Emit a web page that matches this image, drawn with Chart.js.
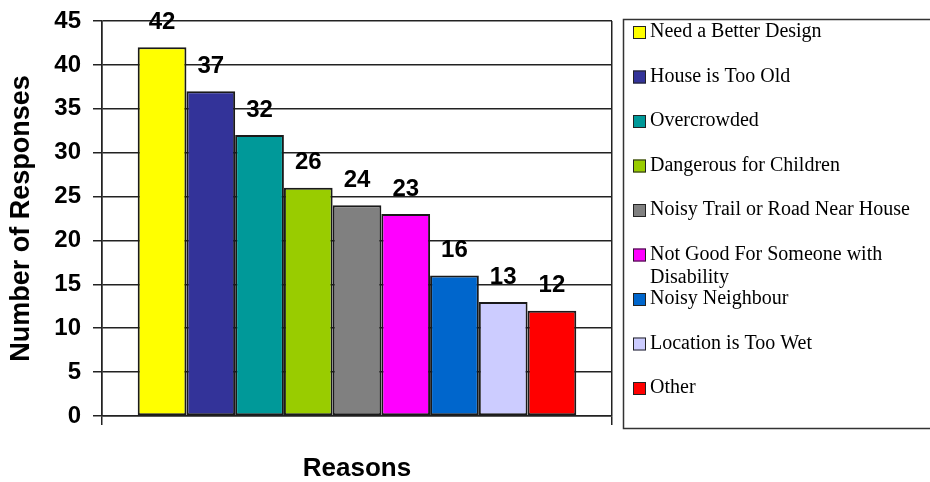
<!DOCTYPE html>
<html>
<head>
<meta charset="utf-8">
<script src="https://cdn.jsdelivr.net/npm/chart.js@4/dist/chart.umd.min.js"></script>
<style>
	html, body { margin: 0; padding: 0; background: #fff; }
	#wrap { width: 930px; height: 482px; position: relative; }
</style>
</head>
<body>
<div id="wrap"><canvas id="reasons-chart"></canvas></div>
<script>
	'use strict';

	// values
	const reasons = [
		'Need a Better Design',
		'House is Too Old',
		'Overcrowded',
		'Dangerous for Children',
		'Noisy Trail or Road Near House',
		['Not Good For Someone with', 'Disability'],
		'Noisy Neighbour',
		'Location is Too Wet',
		'Other'
	];
	const responses = [42, 37, 32, 26, 24, 23, 16, 13, 12];
	const barColors = ['#FFFF00', '#333399', '#009999', '#99CC00', '#808080', '#FF00FF', '#0066CC', '#CCCCFF', '#FF0000'];
	const yTicks = [0, 5, 10, 15, 20, 25, 30, 35, 40, 45];

	const sansBold = '"Liberation Sans", Arial, sans-serif';

	const datasets = reasons.map(function (name, i) {
		return {
			label: Array.isArray(name) ? name.join(' ') : name,
			data: [responses[i]],
			backgroundColor: barColors[i],
			borderColor: '#1a1a1a',
			borderWidth: 2,
			borderSkipped: false,
			categoryPercentage: 0.86,
			barPercentage: 1
		};
	});

	// value labels above each bar
	const valueLabels = {
		id: 'valueLabels',
		afterDatasetsDraw: function (chart) {
			const ctx = chart.ctx;
			ctx.save();
			ctx.font = 'bold 24px ' + sansBold;
			ctx.fillStyle = '#000';
			ctx.textAlign = 'center';
			ctx.textBaseline = 'middle';
			chart.data.datasets.forEach(function (ds, i) {
				const bar = chart.getDatasetMeta(i).data[0];
				ctx.fillText(String(ds.data[0]), bar.x, bar.y - 25);
			});
			ctx.restore();
		}
	};

	// boxed legend on the right
	const boxLegend = {
		id: 'boxLegend',
		afterDraw: function (chart) {
			const ctx = chart.ctx;
			ctx.save();
			ctx.strokeStyle = '#333';
			ctx.lineWidth = 1.5;
			ctx.strokeRect(623.5, 19.5, 320, 409);
			ctx.font = '20px "Liberation Serif", "Times New Roman", serif';
			ctx.textBaseline = 'middle';
			ctx.textAlign = 'left';
			ctx.lineWidth = 1;
			reasons.forEach(function (name, i) {
				const y = 32 + i * 44.5;
				ctx.fillStyle = barColors[i];
				ctx.fillRect(633, y - 6, 13, 13);
				ctx.strokeStyle = '#222';
				ctx.strokeRect(633.5, y - 5.5, 12, 12);
				ctx.fillStyle = '#000';
				const lines = Array.isArray(name) ? name : [name];
				lines.forEach(function (line, k) {
					ctx.fillText(line, 650, y + k * 23);
				});
			});
			ctx.restore();
		}
	};

	const ctx = document.getElementById('reasons-chart');

	new Chart(ctx, {
		type: 'bar',
		data: {
			labels: [''],
			datasets: datasets
		},
		options: {
			responsive: true,
			maintainAspectRatio: false,
			animation: false,
			layout: {
				padding: { top: 21, right: 318, left: 0, bottom: 0 }
			},
			plugins: {
				legend: { display: false },
				tooltip: { enabled: false }
			},
			scales: {
				x: {
					offset: true,
					grid: {
						display: true,
						offset: true,
						color: '#222',
						lineWidth: 1.5,
						drawTicks: true,
						tickLength: 9
					},
					border: { color: '#222', width: 1.5 },
					ticks: { display: false },
					title: {
						display: true,
						text: 'Reasons',
						color: '#000',
						font: { family: sansBold, size: 26, weight: 'bold', lineHeight: 1 },
						padding: { top: 30, bottom: 0 }
					},
					afterFit: function (scale) { scale.height = 66; }
				},
				y: {
					min: 0,
					max: 45,
					afterBuildTicks: function (scale) {
						scale.ticks = yTicks.map(function (v) { return { value: v }; });
					},
					grid: {
						color: '#222',
						lineWidth: 1.5,
						tickLength: 9
					},
					border: { color: '#222', width: 1.5 },
					ticks: {
						color: '#000',
						padding: 12,
						font: { family: sansBold, size: 24, weight: 'bold' }
					},
					title: {
						display: true,
						text: 'Number of Responses',
						color: '#000',
						font: { family: sansBold, size: 27, weight: 'bold', lineHeight: 1 },
						padding: { top: 8, bottom: 0 }
					},
					afterFit: function (scale) {
						scale.width = 102;
						scale.paddingTop = 0;
						scale.paddingBottom = 0;
					}
				}
			}
		},
		plugins: [valueLabels, boxLegend]
	});
</script>
</body>
</html>
